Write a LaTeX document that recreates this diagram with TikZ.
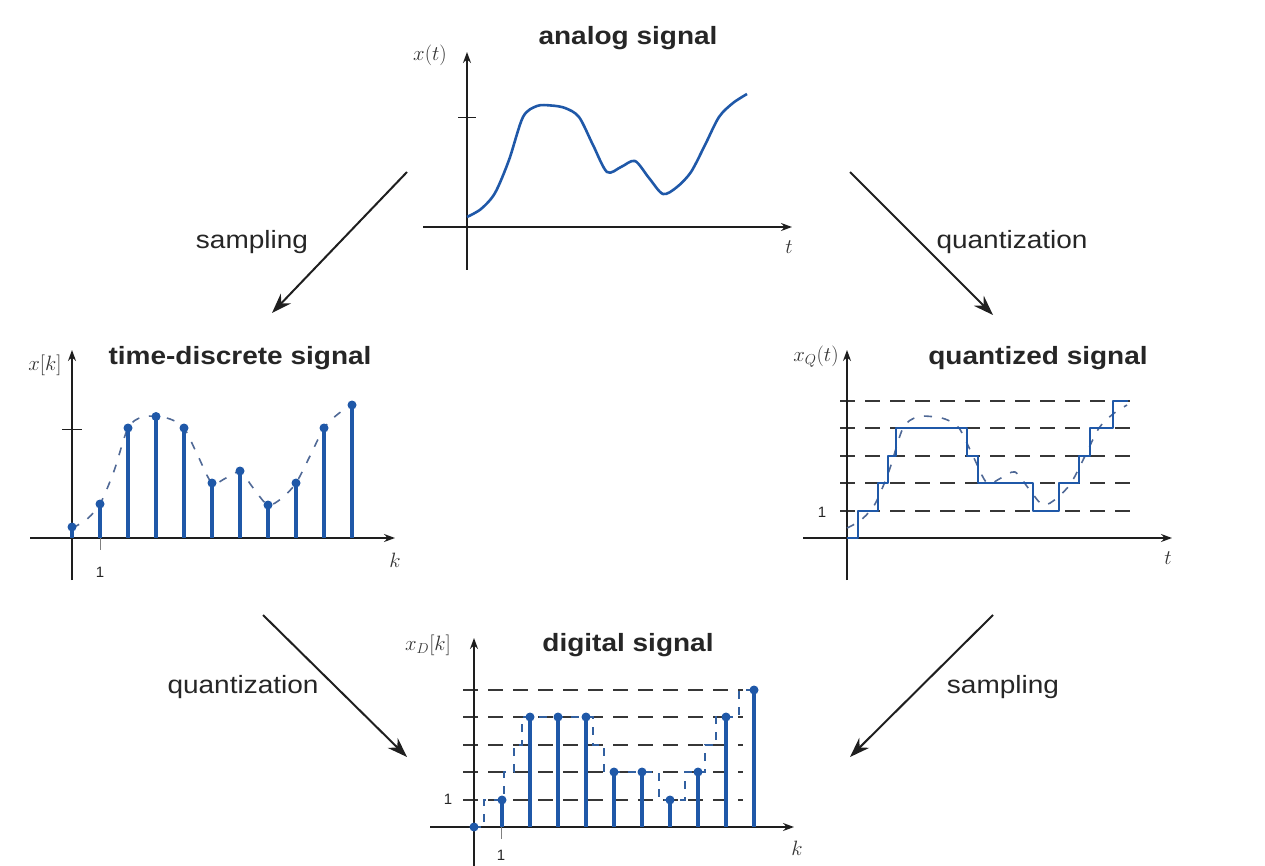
\documentclass[tikz,border=0pt]{standalone}
\usepackage{graphicx}
\usepackage{fontspec}
\setmainfont{Liberation Sans}
\usetikzlibrary{arrows.meta}
\definecolor{sigblue}{RGB}{31,88,168}
\definecolor{axisc}{RGB}{30,30,30}
\definecolor{dashc}{RGB}{55,55,55}
\definecolor{curvedash}{RGB}{80,105,150}
\newcommand{\wide}[1]{\scalebox{1.12}[1]{#1}}
\newcommand{\analogcurve}[1]{\draw[#1] plot[smooth, tension=0.5] coordinates {(467,217) (481,209) (495,193) (509,160) (523,117) (537,106) (551,105.5) (565,108) (579,117) (593,145) (607,172) (621,167) (635,161) (649,178) (663,194) (677,187) (691,172) (705,145) (719,117) (733,103) (747,94)};}
\newcommand{\stairpath}[1]{\draw[#1] (847,538) -- (858,538) -- (858,511) -- (878,511) -- (878,483) -- (888,483) -- (888,456) -- (896,456) -- (896,428) -- (967,428) -- (967,456) -- (978,456) -- (978,483) -- (1033,483) -- (1033,511) -- (1059,511) -- (1059,483) -- (1079,483) -- (1079,456) -- (1090,456) -- (1090,428) -- (1113,428) -- (1113,401) -- (1128,401);}
\begin{document}
\begin{tikzpicture}[x=1pt,y=-1pt,
  ax/.style={axisc, line width=1.6pt, -{Stealth[length=11pt,width=8pt]}},
  flow/.style={black!88, line width=2pt, -{Stealth[length=20pt,width=14pt]}},
  sig/.style={sigblue, line width=2.6pt, line join=round},
  stem/.style={sigblue, line width=3.4pt},
  lvl/.style={dashc, line width=1.6pt, dash pattern=on 15pt off 10pt},
  cdash/.style={curvedash, line width=1.6pt, dash pattern=on 8pt off 10pt},
  sdash/.style={sigblue!80!gray, line width=1.3pt, dash pattern=on 8pt off 8pt},
  title/.style={font=\bfseries\fontsize{25}{30}\selectfont, text=black!85},
  lab/.style={font=\fontsize{25}{30}\selectfont, text=black!85},
  axl/.style={font=\fontsize{20}{24}\selectfont, text=black!80},
  one/.style={font=\fontsize{15}{18}\selectfont, text=black!85},
  tick/.style={axisc, line width=1pt},
]
\useasboundingbox (0,0) rectangle (1265,866);

% ---------- analog signal ----------
\draw[ax] (467,270) -- (467,52);
\draw[ax] (423,227) -- (792,227);
\draw[tick] (458,118) -- (476,118);
\analogcurve{sig}
\node[title] (tA) at (628,38) {\wide{analog signal}};
\node[axl] (lA) at (430,55) {$x(t)$};
\node[axl] (tAx) at (789,247) {$t$};

% ---------- time-discrete signal ----------
\draw[ax] (72,580) -- (72,350);
\draw[ax] (30,538) -- (395,538);
\draw[tick] (62,429) -- (82,429);
\draw[tick, black!50] (100,538) -- (100,550);
\analogcurve{cdash, shift={(-395,311)}}
\foreach \k/\h in {0/11,1/34,2/110,3/121.5,4/110,5/55,6/67,7/33,8/55,9/110,10/133}{
  \draw[stem] (72+28*\k,538) -- (72+28*\k,538-\h);
  \fill[sigblue] (72+28*\k,538-\h) circle (4.5);
}
\node[title] (tT) at (240,358) {\wide{time-discrete signal}};
\node[axl] (lT) at (45,365) {$x[k]$};
\node[axl] (kT) at (395,560) {$k$};
\node[one] (oT) at (100,572) {1};

% ---------- quantized signal ----------
\foreach \y in {511,483,456,428,401}{
  \draw[lvl] (840,\y) -- (1130,\y);
}
\draw[ax] (847,580) -- (847,350);
\draw[ax] (803,538) -- (1172,538);
\analogcurve{cdash, shift={(380,311)}}
\stairpath{sig}
\node[title] (tQ) at (1038,358) {\wide{quantized signal}};
\node[axl] (lQ) at (816,357) {$x_Q(t)$};
\node[axl] (tQx) at (1168,558) {$t$};
\node[one] (oQ) at (822,512) {1};

% ---------- digital signal ----------
\foreach \y in {800,772,745,717,690}{
  \draw[lvl] (463,\y) -- (743,\y);
}
\draw[ax] (474,866) -- (474,638);
\draw[ax] (430,827) -- (794,827);
\draw[tick, black!50] (501,827) -- (501,839);
\stairpath{sdash, shift={(-374,289)}}
\foreach \k/\y in {0/827,1/800,2/717,3/717,4/717,5/772,6/772,7/800,8/772,9/717,10/690}{
  \draw[stem] (474+28*\k,827) -- (474+28*\k,\y);
  \fill[sigblue] (474+28*\k,\y) circle (4.5);
}
\node[title] (tD) at (628,645) {\wide{digital signal}};
\node[axl] (lD) at (428,645) {$x_D[k]$};
\node[axl] (kD) at (797,848) {$k$};
\node[one] (oD1) at (448,799) {1};
\node[one] (oD2) at (501,855) {1};

% ---------- flow arrows ----------
\coordinate (a1s) at (407,172); \coordinate (a1e) at (272,313);
\coordinate (a2s) at (850,172); \coordinate (a2e) at (993,315);
\coordinate (a3s) at (263,615); \coordinate (a3e) at (407,757);
\coordinate (a4s) at (993,615); \coordinate (a4e) at (850,757);
\draw[flow] (a1s) -- (a1e);
\draw[flow] (a2s) -- (a2e);
\draw[flow] (a3s) -- (a3e);
\draw[flow] (a4s) -- (a4e);
\node[lab] (l1) at (252,242) {\wide{sampling}};
\node[lab] (l2) at (1012,242) {\wide{quantization}};
\node[lab] (l3) at (243,687) {\wide{quantization}};
\node[lab] (l4) at (1003,687) {\wide{sampling}};
\end{tikzpicture}
\end{document}
